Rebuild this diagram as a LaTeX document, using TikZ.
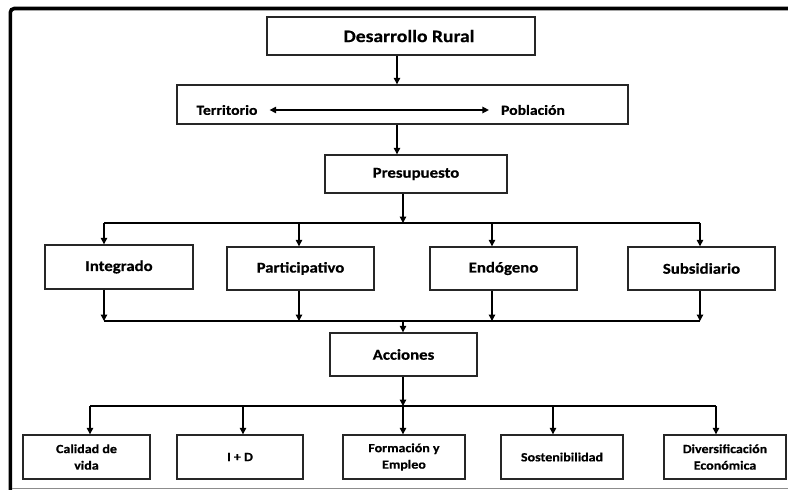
\documentclass[tikz,border=0pt]{standalone}
\usepackage{fontspec}
\setmainfont{Carlito}[FakeStretch=1.12, BoldFeatures={FakeBold=0.5}]
\usetikzlibrary{arrows.meta}
\tikzset{
  box/.style={draw=black!85, line width=1.4pt, fill=white, inner sep=0pt, align=center, font=\bfseries\fontsize{15}{17}\selectfont},
  bigbox/.style={box, font=\bfseries\fontsize{17.5}{20}\selectfont},
  smallbox/.style={box, font=\bfseries\fontsize{12.5}{16.5}\selectfont},
  txt/.style={inner sep=2pt, font=\bfseries\fontsize{14}{16}\selectfont},
  conn/.style={line width=1.3pt, black},
  arr/.style={conn, -{Triangle[length=6.5pt,width=6.5pt]}},
  dblarr/.style={conn, {Triangle[length=6.5pt,width=6.5pt]}-{Triangle[length=6.5pt,width=6.5pt]}},
}
\begin{document}
\begin{tikzpicture}[x=1pt,y=-1pt]
\useasboundingbox (0,0) rectangle (788,490);
% frame
\draw[line width=3.6pt, rounded corners=4pt] (10.3,492) -- (10.3,8.5) -- (790,8.5);
\draw[black!45, line width=1pt] (12,488) -- (790,488);

% boxes
\node[bigbox, minimum width=268pt, minimum height=38pt] (dr) at (401,36) {\hspace*{16pt}Desarrollo Rural};
\node[box, minimum width=451pt, minimum height=39pt] (tp) at (402.5,104.5) {};
\node[txt] (ter) at (227,110) {Territorio};
\node[txt] (pob) at (533,110) {Población};
\node[box, minimum width=182pt, minimum height=38pt] (pre) at (416,174) {Presupuesto};

\node[box, minimum width=148pt, minimum height=44pt] (int) at (119,267) {Integrado};
\node[box, minimum width=147pt, minimum height=43pt] (par) at (300.5,268.5) {Participativo};
\node[box, minimum width=147pt, minimum height=43pt] (endo) at (503.5,268.5) {Endógeno};
\node[box, minimum width=147pt, minimum height=43pt] (sub) at (701.5,268.5) {Subsidiario};

\node[box, minimum width=147pt, minimum height=43pt] (acc) at (403.5,354.5) {Acciones};

\node[smallbox, minimum width=127pt, minimum height=44pt] (cal) at (86.5,457) {Calidad de\\vida};
\node[smallbox, minimum width=126pt, minimum height=44pt] (id) at (240,457) {I + D};
\node[smallbox, minimum width=122pt, minimum height=44pt] (for) at (404,457) {Formación y\\Empleo};
\node[smallbox, minimum width=122pt, minimum height=44pt] (sos) at (562,457) {Sostenibilidad};
\node[smallbox, minimum width=122pt, minimum height=44pt] (div) at (725,457) {Diversificación\\Económica};

% bus coordinates
\coordinate (t1) at (397,0);
\coordinate (b1m) at (403,223);
\coordinate (b1a) at (104,223);
\coordinate (b1b) at (299,223);
\coordinate (b1c) at (492,223);
\coordinate (b1d) at (700,223);
\coordinate (b2a) at (104,321);
\coordinate (b2b) at (299,321);
\coordinate (b2c) at (492,321);
\coordinate (b2d) at (700,321);
\coordinate (b2m) at (403,321);
\coordinate (b3m) at (403,406);
\coordinate (b3a) at (90,406);
\coordinate (b3b) at (243,406);
\coordinate (b3c) at (403,406);
\coordinate (b3d) at (553,406);
\coordinate (b3e) at (716,406);

% connectors
\draw[arr] (dr.south -| t1) -- (tp.north -| t1);
\draw[dblarr] ([xshift=10pt]ter.east) -- ([xshift=-10pt]pob.west);
\draw[arr] (tp.south -| t1) -- (pre.north -| t1);
\draw[arr] (pre.south -| b1m) -- (b1m);
\draw[conn] (b1a) -- (b1d);
\draw[arr] (b1a) -- (b1a |- int.north);
\draw[arr] (b1b) -- (b1b |- par.north);
\draw[arr] (b1c) -- (b1c |- endo.north);
\draw[arr] (b1d) -- (b1d |- sub.north);
\draw[arr] (b2a |- int.south) -- (b2a);
\draw[arr] (b2b |- par.south) -- (b2b);
\draw[arr] (b2c |- endo.south) -- (b2c);
\draw[arr] (b2d |- sub.south) -- (b2d);
\draw[conn] (b2a) -- (b2d);
\draw[arr] (b2m) -- (b2m |- acc.north);
\draw[arr] (acc.south -| b3m) -- (b3m);
\draw[conn] (b3a) -- (b3e);
\draw[arr] (b3a) -- (b3a |- cal.north);
\draw[arr] (b3b) -- (b3b |- id.north);
\draw[arr] (b3c) -- (b3c |- for.north);
\draw[arr] (b3d) -- (b3d |- sos.north);
\draw[arr] (b3e) -- (b3e |- div.north);
\end{tikzpicture}
\end{document}
